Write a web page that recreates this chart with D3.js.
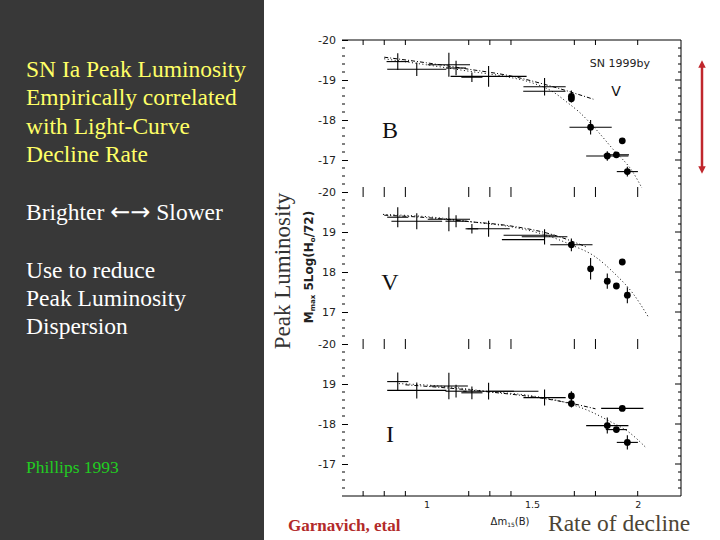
<!DOCTYPE html>
<html>
<head>
<meta charset="utf-8">
<script src="https://cdn.jsdelivr.net/npm/d3@7"></script>
<style>
  body { margin: 0; background: #fff; }
  svg { display: block; }
</style>
</head>
<body>
<div id="chart"></div>
<script>
// slide text
const titleLines = ["SN Ia Peak Luminosity", "Empirically correlated", "with Light-Curve", "Decline Rate"];
const bodyLines = ["Use to reduce", "Peak Luminosity", "Dispersion"];

// panels (filters) and tick labels as printed in the scan
const bands = ["B", "V", "I"];
const bTickLabels = ["-20", "-19", "-18", "-17"];
const vTickLabels = ["-20", "19", "18", "17"];
const iTickLabels = ["-20", "19", "-18", "-17"];
const majorM = [-20, -19, -18, -17];
const minorM = [-19.8, -19.6, -19.4, -19.2, -18.8, -18.6, -18.4, -18.2, -17.8, -17.6, -17.4, -17.2, -16.8, -16.6, -16.4];
const xLabels = [1, 1.5, 2];
const xMinor = [0.7, 0.8, 0.9, 1.2, 1.3, 1.4, 1.7, 1.8, 2.0];

// [dm15(B), Mmax, xerr, yerr, filled]
const bPoints = [
  [0.864, -19.46, 0.053, 0.21, 0],
  [0.954, -19.27, 0.14, 0.17, 0],
  [1.106, -19.38, 0.10, 0.30, 0],
  [1.140, -19.30, 0.047, 0.18, 0],
  [1.215, -19.07, 0.05, 0.12, 0],
  [1.294, -19.09, 0.18, 0.26, 0],
  [1.559, -18.83, 0.10, 0.22, 0],
  [1.558, -18.72, 0.10, 0, 0],
  [1.686, -18.59, 0, 0.15, 1],
  [1.686, -18.53, 0, 0, 1],
  [1.777, -17.82, 0.10, 0.18, 1],
  [1.856, -17.10, 0.10, 0.12, 1],
  [1.899, -17.13, 0.06, 0, 1],
  [1.927, -17.48, 0, 0, 1],
  [1.951, -16.71, 0.05, 0.12, 1]
];
const vPoints = [
  [0.864, -19.37, 0.05, 0.25, 0],
  [0.954, -19.27, 0.12, 0.20, 0],
  [1.106, -19.32, 0.10, 0.30, 0],
  [1.140, -19.27, 0.05, 0.15, 0],
  [1.215, -19.08, 0.03, 0.12, 0],
  [1.294, -19.08, 0.10, 0.20, 0],
  [1.485, -18.92, 0.12, 0, 0],
  [1.457, -18.81, 0.10, 0, 0],
  [1.559, -18.88, 0.108, 0.19, 0],
  [1.686, -18.68, 0.10, 0.16, 1],
  [1.777, -18.08, 0, 0.27, 1],
  [1.856, -17.77, 0, 0.19, 1],
  [1.899, -17.65, 0, 0, 1],
  [1.927, -18.25, 0, 0, 1],
  [1.951, -17.42, 0, 0.20, 1]
];
const iPoints = [
  [0.864, -19.06, 0.05, 0.23, 0],
  [0.954, -18.84, 0.14, 0.20, 0],
  [1.106, -18.95, 0.09, 0.33, 0],
  [1.140, -18.82, 0.05, 0.16, 0],
  [1.215, -18.78, 0.05, 0.16, 0],
  [1.294, -18.82, 0.12, 0.21, 0],
  [1.410, -18.82, 0.12, 0, 0],
  [1.559, -18.66, 0.10, 0.20, 0],
  [1.686, -18.70, 0, 0.12, 1],
  [1.686, -18.51, 0, 0.10, 1],
  [1.856, -17.96, 0.10, 0.20, 1],
  [1.899, -17.86, 0.05, 0, 1],
  [1.927, -18.39, 0.10, 0, 1],
  [1.951, -17.54, 0.05, 0.18, 1]
];

// fitted relations (dotted) and the flatter fits (dash-dot)
const bCurve = [[0.8, -19.53], [1.0, -19.38], [1.2, -19.22], [1.38, -19.08], [1.5, -18.93], [1.6, -18.7], [1.664, -18.45], [1.727, -18.18], [1.788, -17.85], [1.883, -17.27], [1.978, -16.69], [2.02, -16.3]];
const vCurve = [[0.794, -19.44], [1.03, -19.37], [1.22, -19.25], [1.41, -19.12], [1.567, -18.92], [1.693, -18.66], [1.788, -18.42], [1.891, -17.96], [1.978, -17.46], [2.05, -16.88]];
const iCurve = [[0.869, -19.01], [1.062, -18.95], [1.283, -18.82], [1.504, -18.70], [1.662, -18.53], [1.773, -18.32], [1.867, -18.07], [1.962, -17.78], [2.041, -17.40]];
const bCurve2 = [[0.8, -19.57], [1.0, -19.43], [1.2, -19.27], [1.4, -19.1], [1.6, -18.83], [1.79, -18.52]];
const vCurve2 = [[0.8, -19.42], [1.0, -19.36], [1.2, -19.26], [1.4, -19.15], [1.6, -18.93], [1.76, -18.62]];
const iCurve2 = [[0.9, -18.98], [1.1, -18.9], [1.3, -18.8], [1.5, -18.68], [1.7, -18.5], [1.8, -18.38]];

const width = 720;
const height = 540;
const serif = "'Liberation Serif', 'Times New Roman', serif";
const sans = "'DejaVu Sans', Arial, sans-serif";

const svg = d3.select("#chart")
  .append("svg")
  .attr("width", width)
  .attr("height", height);

svg.append("rect").attr("width", width).attr("height", height).attr("fill", "#fff");
svg.append("rect").attr("width", 264).attr("height", height).attr("fill", "#383838");

// left text block
titleLines.forEach((t, i) => {
  svg.append("text").attr("x", 26).attr("y", 77 + i * 28.4)
    .attr("font-family", serif).attr("font-size", 23.5).attr("fill", "#ffff66").text(t);
});
const br = svg.append("text").attr("x", 26).attr("y", 220)
  .attr("font-family", serif).attr("font-size", 23.5).attr("fill", "#fff");
br.append("tspan").text("Brighter ");
br.append("tspan").attr("font-family", sans).attr("font-size", 24).text("\u2190\u2192");
br.append("tspan").text(" Slower");
bodyLines.forEach((t, i) => {
  svg.append("text").attr("x", 26).attr("y", 277.5 + i * 28.4)
    .attr("font-family", serif).attr("font-size", 23.5).attr("fill", "#fff").text(t);
});
svg.append("text").attr("x", 26).attr("y", 473)
  .attr("font-family", serif).attr("font-size", 17.5).attr("fill", "#22cc22").text("Phillips 1993");

// plot frame
const pLeft = 342, pRight = 681, pTop = 40, panelH = 152;
const x = d3.scaleLinear().domain([0.6, 2.205]).range([pLeft, pRight]);
const pBottom = pTop + panelH * bands.length;

const tickLabels = [bTickLabels, vTickLabels, iTickLabels];
const points = [bPoints, vPoints, iPoints];
const curves = [bCurve, vCurve, iCurve];
const curves2 = [bCurve2, vCurve2, iCurve2];

bands.forEach((band, i) => {
  const y0 = pTop + i * panelH;
  const y = d3.scaleLinear().domain([-20, -16.2]).range([y0, y0 + panelH]);
  const g = svg.append("g");

  const ax = g.append("g")
    .attr("transform", `translate(${pLeft},0)`)
    .call(d3.axisLeft(y).tickValues(majorM).tickSize(-6).tickPadding(6)
      .tickFormat((d, k) => tickLabels[i][k]));
  ax.select(".domain").remove();
  ax.attr("font-family", sans).attr("font-size", 11);
  ax.selectAll("text").attr("fill", "#222");

  // minor ticks left & right, major right
  g.selectAll(".mnl").data(minorM).join("line")
    .attr("x1", pLeft).attr("x2", pLeft + 3)
    .attr("y1", d => y(d)).attr("y2", d => y(d)).attr("stroke", "#000");
  g.selectAll(".mnr").data(minorM.concat(majorM.slice(1))).join("line")
    .attr("x1", pRight).attr("x2", d => pRight - (Number.isInteger(d) ? 6 : 3))
    .attr("y1", d => y(d)).attr("y2", d => y(d)).attr("stroke", "#000");

  // x ticks along top and bottom of each panel
  g.selectAll(".xt").data(xMinor).join("line")
    .attr("x1", d => x(d)).attr("x2", d => x(d))
    .attr("y1", y0).attr("y2", y0 + 5).attr("stroke", "#000");
  g.selectAll(".xb").data(xMinor).join("line")
    .attr("x1", d => x(d)).attr("x2", d => x(d))
    .attr("y1", y0 + panelH).attr("y2", y0 + panelH - 5).attr("stroke", "#000");

  const line = d3.line().x(d => x(d[0])).y(d => y(d[1])).curve(d3.curveMonotoneX);
  g.append("path").attr("d", line(curves[i]))
    .attr("fill", "none").attr("stroke", "#000").attr("stroke-width", 1)
    .attr("stroke-dasharray", "1,2.5");
  g.append("path").attr("d", line(curves2[i]))
    .attr("fill", "none").attr("stroke", "#000").attr("stroke-width", 1)
    .attr("stroke-dasharray", "4,2,1,2");

  const pts = points[i];
  g.selectAll(".ex").data(pts.filter(d => d[2] > 0)).join("line")
    .attr("x1", d => x(d[0] - d[2])).attr("x2", d => x(d[0] + d[2]))
    .attr("y1", d => y(d[1])).attr("y2", d => y(d[1]))
    .attr("stroke", "#000").attr("stroke-width", 1.1);
  g.selectAll(".ey").data(pts.filter(d => d[3] > 0)).join("line")
    .attr("x1", d => x(d[0])).attr("x2", d => x(d[0]))
    .attr("y1", d => y(d[1] - d[3])).attr("y2", d => y(d[1] + d[3]))
    .attr("stroke", "#000").attr("stroke-width", 1.1);
  g.selectAll(".dot").data(pts.filter(d => d[4])).join("circle")
    .attr("cx", d => x(d[0])).attr("cy", d => y(d[1])).attr("r", 3.4)
    .attr("fill", "#000");

  g.append("text").attr("x", 390).attr("y", y0 + 98)
    .attr("text-anchor", "middle").attr("font-family", serif).attr("font-size", 24)
    .attr("fill", "#111").text(band);

  if (i === 0) {
    g.append("text").attr("x", x(1.916)).attr("y", y(-19.43)).attr("dy", "0.35em")
      .attr("text-anchor", "middle").attr("font-family", sans).attr("font-size", 11)
      .attr("fill", "#222").text("SN 1999by");
    g.append("text").attr("x", x(1.897)).attr("y", y(-18.73)).attr("dy", "0.35em")
      .attr("text-anchor", "middle").attr("font-family", sans).attr("font-size", 14)
      .attr("fill", "#111").text("V");
  }
});

// frame lines (no left spine in the scan)
svg.append("line").attr("x1", pLeft).attr("x2", pRight).attr("y1", pTop).attr("y2", pTop).attr("stroke", "#000");
svg.append("line").attr("x1", pRight).attr("x2", pRight).attr("y1", pTop).attr("y2", pBottom).attr("stroke", "#000");
svg.append("line").attr("x1", pLeft).attr("x2", pRight).attr("y1", pBottom).attr("y2", pBottom).attr("stroke", "#000");

const xAxis = svg.append("g")
  .attr("transform", `translate(0,${pBottom})`)
  .call(d3.axisBottom(x).tickValues(xLabels).tickSize(0).tickPadding(5).tickFormat(d => String(d)));
xAxis.select(".domain").remove();
xAxis.attr("font-family", sans).attr("font-size", 9.5);
xAxis.selectAll("text").attr("fill", "#222");

// axis titles
svg.append("text")
  .attr("transform", "translate(290,271) rotate(-90)")
  .attr("text-anchor", "middle").attr("font-family", serif).attr("font-size", 23)
  .attr("fill", "#333").text("Peak Luminosity");
const ml = svg.append("text")
  .attr("transform", "translate(313,267) rotate(-90)")
  .attr("text-anchor", "middle").attr("font-family", sans).attr("font-size", 12)
  .attr("font-weight", "bold").attr("fill", "#222");
ml.append("tspan").text("M");
ml.append("tspan").attr("font-size", 7).attr("dy", 2).text("max");
ml.append("tspan").attr("dy", -2).text("  5Log(H");
ml.append("tspan").attr("font-size", 7).attr("dy", 2).text("o");
ml.append("tspan").attr("dy", -2).text("/72)");

const xl = svg.append("text").attr("x", 510).attr("y", 525)
  .attr("text-anchor", "middle").attr("font-family", sans).attr("font-size", 10).attr("fill", "#222");
xl.append("tspan").text("\u0394m");
xl.append("tspan").attr("font-size", 6).attr("dy", 2).text("15");
xl.append("tspan").attr("dy", -2).text("(B)");

svg.append("text").attr("x", 288).attr("y", 531)
  .attr("font-family", serif).attr("font-size", 17).attr("font-weight", "bold")
  .attr("fill", "#b22a2a").text("Garnavich, etal");
svg.append("text").attr("x", 548).attr("y", 531)
  .attr("font-family", serif).attr("font-size", 23.5)
  .attr("fill", "#4d4535").text("Rate of decline");

// red double arrow
const defs = svg.append("defs");
defs.append("marker").attr("id", "ah").attr("viewBox", "0 0 10 10")
  .attr("refX", 5).attr("refY", 5).attr("markerWidth", 3).attr("markerHeight", 3)
  .attr("orient", "auto-start-reverse")
  .append("path").attr("d", "M0,0L10,5L0,10z").attr("fill", "#c0272d");
svg.append("line").attr("x1", 702).attr("x2", 702).attr("y1", 64).attr("y2", 170)
  .attr("stroke", "#c0272d").attr("stroke-width", 2.5)
  .attr("marker-start", "url(#ah)").attr("marker-end", "url(#ah)");
</script>
</body>
</html>
